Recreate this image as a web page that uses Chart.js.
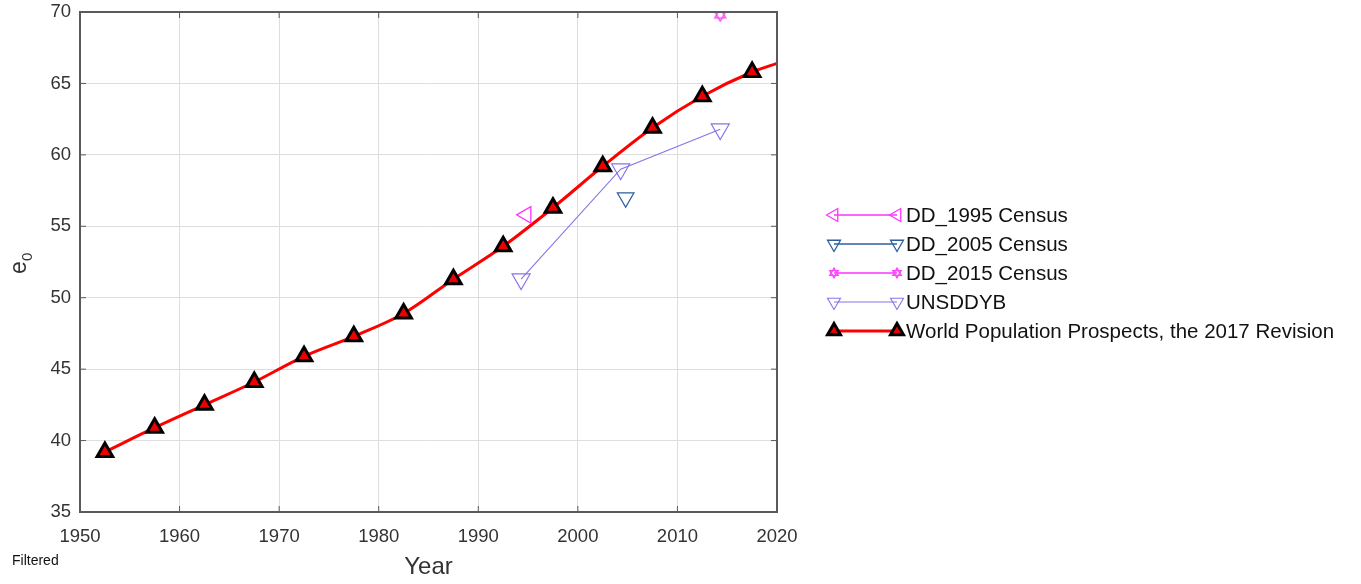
<!DOCTYPE html>
<html>
<head>
<meta charset="utf-8">
<script src="https://cdn.jsdelivr.net/npm/chart.js@4/dist/chart.umd.min.js"></script>
<style>
   body { margin: 0; background: #fff; }
   #wrap { width: 1361px; height: 584px; }
</style>
</head>
<body>
<div id="wrap"><canvas id="myChart" width="1361" height="584"></canvas></div>
<script>
// values
const wppYears = [1952.5, 1957.5, 1962.5, 1967.5, 1972.5, 1977.5, 1982.5, 1987.5, 1992.5, 1997.5, 2002.5, 2007.5, 2012.5, 2017.5, 2020];
const wppE0 = [39.2, 40.9, 42.5, 44.1, 45.9, 47.3, 48.9, 51.3, 53.6, 56.3, 59.2, 61.9, 64.1, 65.8, 66.4];
const unsYears = [1994.3, 2004.3, 2014.3];
const unsE0 = [51.3, 59.0, 61.8];
const dd1995Years = [1994.8];
const dd1995E0 = [55.8];
const dd2005Years = [2004.8];
const dd2005E0 = [57.0];
const dd2015Years = [2014.3];
const dd2015E0 = [69.8];
const xTicks = [1950, 1960, 1970, 1980, 1990, 2000, 2010, 2020];
const yTicks = [35, 40, 45, 50, 55, 60, 65, 70];

const FONT = '"Liberation Sans", Arial, sans-serif';
const toPts = (xs, ys) => xs.map((x, i) => ({x: x, y: ys[i]}));

// hexagram marker for the 2015 census
function hexagram(color, size) {
   const c = document.createElement('canvas');
   c.width = size; c.height = size;
   const g = c.getContext('2d'), m = size / 2;
   g.strokeStyle = color; g.lineWidth = 1.4;
   for (let k = 0; k < 2; k++) {
      g.beginPath();
      for (let j = 0; j < 3; j++) {
         const a = (k * 60 + j * 120) * Math.PI / 180;
         const px = m + Math.sin(a) * (m - 1.2), py = m - Math.cos(a) * (m - 1.2);
         if (j == 0) g.moveTo(px, py); else g.lineTo(px, py);
      }
      g.closePath();
      g.stroke();
   }
   return c;
}
const starImg = hexagram('#ff44ff', 15);
const starLegend = hexagram('#ff44ff', 12);

const datasets = [
   {label: 'DD_1995 Census', data: toPts(dd1995Years, dd1995E0), borderColor: '#ff33ff', backgroundColor: 'rgba(0,0,0,0)',
    pointStyle: 'triangle', rotation: -90, pointRadius: 9.5, borderWidth: 1.3, showLine: false},
   {label: 'DD_2005 Census', data: toPts(dd2005Years, dd2005E0), borderColor: '#2e5e9e', backgroundColor: 'rgba(0,0,0,0)',
    pointStyle: 'triangle', rotation: 180, pointRadius: 9.5, borderWidth: 1.3, showLine: false},
   {label: 'DD_2015 Census', data: toPts(dd2015Years, dd2015E0), borderColor: '#ff66ff', backgroundColor: 'rgba(0,0,0,0)',
    pointStyle: starImg, pointRadius: 8, borderWidth: 2, showLine: false, legendImg: starLegend},
   {label: 'UNSDDYB', data: toPts(unsYears, unsE0), borderColor: '#8a73e6', backgroundColor: 'rgba(0,0,0,0)',
    pointStyle: 'triangle', rotation: 180, pointRadius: 10.5, borderWidth: 1.1, showLine: true},
   {label: 'World Population Prospects, the 2017 Revision', data: toPts(wppYears, wppE0), borderColor: '#ff0000',
    backgroundColor: '#ee0000', pointBorderColor: '#000', pointBorderWidth: 3, pointStyle: 'triangle',
    pointRadius: wppYears.map((y, i) => i == wppYears.length - 1 ? 0 : 9), borderWidth: 3, showLine: true,
    cubicInterpolationMode: 'monotone'},
];

// chart frame, inward ticks, axis titles and the legend
const decor = {
   id: 'decor',
   afterDraw(chart) {
      const ctx = chart.ctx, a = chart.chartArea;
      const xs = chart.scales.x, ys = chart.scales.y;
      ctx.save();
      ctx.strokeStyle = '#5a5a5a';
      ctx.lineWidth = 2;
      ctx.strokeRect(a.left, a.top, a.right - a.left, a.bottom - a.top);
      ctx.lineWidth = 1;
      ctx.beginPath();
      for (const t of xTicks) {
         const px = xs.getPixelForValue(t);
         ctx.moveTo(px, a.bottom); ctx.lineTo(px, a.bottom - 6);
         ctx.moveTo(px, a.top); ctx.lineTo(px, a.top + 6);
      }
      for (const t of yTicks) {
         const py = ys.getPixelForValue(t);
         ctx.moveTo(a.left, py); ctx.lineTo(a.left + 6, py);
         ctx.moveTo(a.right, py); ctx.lineTo(a.right - 6, py);
      }
      ctx.stroke();

      // axis titles
      ctx.fillStyle = '#333';
      ctx.font = `24px ${FONT}`;
      ctx.textAlign = 'center';
      ctx.textBaseline = 'middle';
      ctx.fillText('Year', (a.left + a.right) / 2, 567);
      ctx.save();
      ctx.translate(20, (a.top + a.bottom) / 2);
      ctx.rotate(-Math.PI / 2);
      ctx.textAlign = 'left';
      ctx.font = `23px ${FONT}`;
      ctx.fillText('e', -12, 0);
      ctx.font = `15px ${FONT}`;
      ctx.fillText('0', 1, 8);
      ctx.restore();

      ctx.fillStyle = '#111';
      ctx.font = `14px ${FONT}`;
      ctx.textAlign = 'left';
      ctx.fillText('Filtered', 12, 561);

      // legend
      const lx0 = a.right + 57, lx1 = lx0 + 63;
      chart.data.datasets.forEach((ds, i) => {
         const y = 215 + i * 29;
         ctx.strokeStyle = ds.borderColor;
         ctx.lineWidth = ds.borderWidth;
         ctx.beginPath(); ctx.moveTo(lx0, y); ctx.lineTo(lx1, y); ctx.stroke();
         for (const x of [lx0, lx1]) drawMarker(ctx, ds, x, y);
         ctx.fillStyle = '#111';
         ctx.font = `20.5px ${FONT}`;
         ctx.textAlign = 'left';
         ctx.textBaseline = 'middle';
         ctx.fillText(ds.label, lx1 + 9, y + 1);
      });
      ctx.restore();
   }
};

function drawMarker(ctx, ds, x, y) {
   if (ds.legendImg) {
      ctx.drawImage(ds.legendImg, x - ds.legendImg.width / 2, y - ds.legendImg.height / 2);
      return;
   }
   const r = 7.5;
   let rad = (ds.rotation || 0) * Math.PI / 180;
   ctx.beginPath();
   for (let j = 0; j < 3; j++) {
      const px = x + Math.sin(rad) * r, py = y - Math.cos(rad) * r;
      if (j == 0) ctx.moveTo(px, py); else ctx.lineTo(px, py);
      rad += 2 * Math.PI / 3;
   }
   ctx.closePath();
   ctx.fillStyle = ds.backgroundColor;
   ctx.fill();
   ctx.strokeStyle = ds.pointBorderColor || ds.borderColor;
   ctx.lineWidth = ds.pointBorderWidth || ds.borderWidth;
   ctx.stroke();
}

new Chart(document.getElementById('myChart').getContext('2d'), {
   type: 'scatter',
   data: {datasets: datasets},
   options: {
      responsive: false,
      animation: false,
      maintainAspectRatio: false,
      layout: {padding: {top: 10, right: 584, left: 0, bottom: 0}},
      plugins: {legend: {display: false}, tooltip: {enabled: false}},
      scales: {
         x: {
            type: 'linear', min: 1950, max: 2020,
            afterBuildTicks: s => { s.ticks = xTicks.map(v => ({value: v})); },
            afterFit: s => { s.height = 72; s.paddingLeft = 0; s.paddingRight = 0; },
            ticks: {color: '#333', font: {size: 18.5, family: FONT}, padding: 14, maxRotation: 0, callback: v => String(v)},
            grid: {color: '#dedede', drawTicks: false},
            border: {display: false},
         },
         y: {
            type: 'linear', min: 35, max: 70,
            afterBuildTicks: s => { s.ticks = yTicks.map(v => ({value: v})); },
            afterFit: s => { s.width = 80; s.paddingTop = 0; s.paddingBottom = 0; },
            ticks: {color: '#333', font: {size: 18.5, family: FONT}, padding: 9},
            grid: {color: '#dedede', drawTicks: false},
            border: {display: false},
         }
      }
   },
   plugins: [decor]
});
</script>
</body>
</html>
